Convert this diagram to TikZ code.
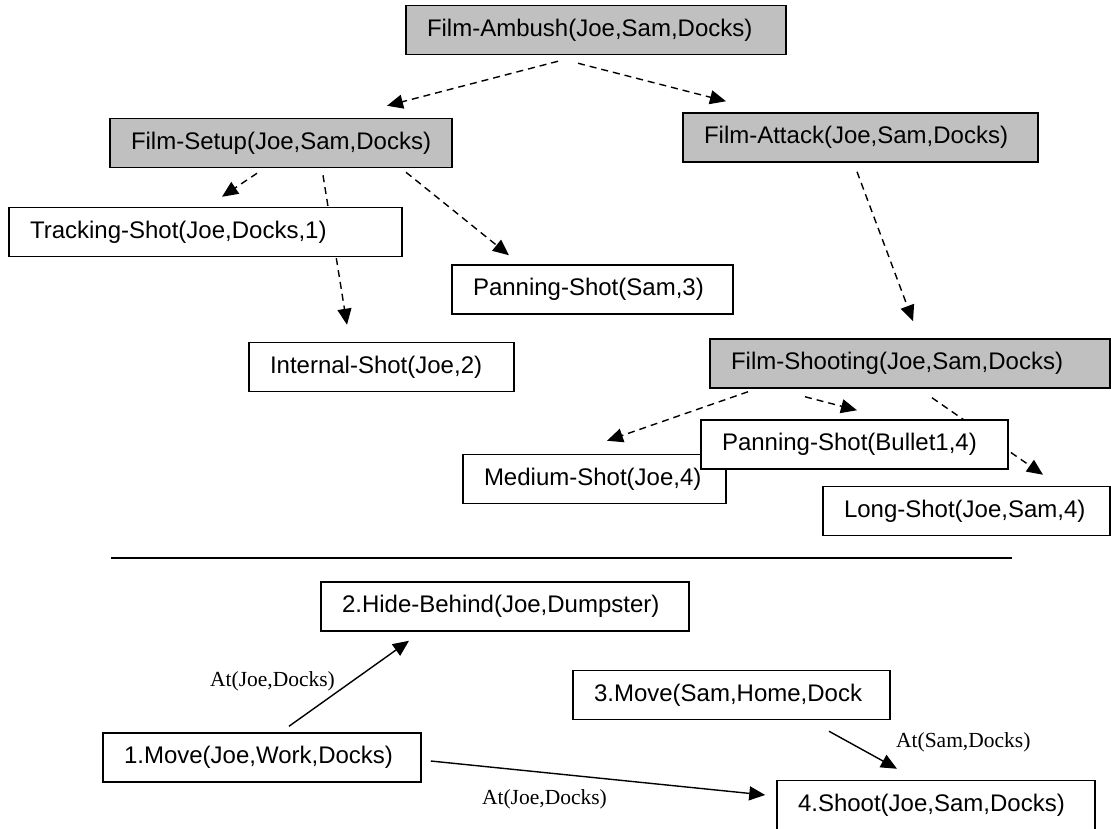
\documentclass[tikz,border=0pt]{standalone}
\usepackage{fontspec}
\usepackage{tikz}
\usetikzlibrary{positioning, arrows.meta, backgrounds}
\newfontfamily\shotfont{Liberation Sans}
\newfontfamily\atfont{Liberation Serif}
\definecolor{boxgray}{RGB}{192,192,192}

\begin{document}
\begin{tikzpicture}[x=1pt, y=-1pt,
    shot/.style={draw, line width=1.5pt, fill=white, rectangle, inner xsep=21pt, minimum height=49pt, align=left,
        font=\shotfont\fontsize{24}{28}\selectfont},
    film/.style={shot, fill=boxgray},
    plan/.style={-{Triangle[length=16pt, width=14pt]}, line width=1.4pt, dash pattern=on 7pt off 5pt},
    link/.style={-{Triangle[length=16pt, width=14pt]}, line width=1.4pt},
    cond/.style={font=\atfont\fontsize{21.5}{24}\selectfont, inner sep=0pt}]
    \useasboundingbox (0, 0) rectangle (1111, 828);

    % film plan
    \node[film, text width=338pt] (ambush) at (596, 30) {Film-Ambush(Joe,Sam,Docks)};
    \node[film, text width=300pt] (setup) at (281, 143) {\mbox{Film-Setup(Joe,Sam,Docks)}};
    \node[film, text width=313pt] (attack) at (860.5, 137.5) {Film-Attack(Joe,Sam,Docks)};
    \node[shot, text width=351pt] (tracking) at (205.5, 232) {Tracking-Shot(Joe,Docks,1)};
    \node[shot, text width=239pt] (pansam) at (592.5, 289.5) {Panning-Shot(Sam,3)};
    \node[shot, text width=223pt] (internal) at (381.5, 367) {Internal-Shot(Joe,2)};
    \node[film, text width=358pt] (shooting) at (910, 363.5) {Film-Shooting(Joe,Sam,Docks)};
    \node[shot, text width=221pt] (medium) at (594.5, 479) {Medium-Shot(Joe,4)};
    \node[shot, text width=265pt] (panbullet) at (854.5, 444.5) {Panning-Shot(Bullet1,4)};
    \node[shot, text width=245pt] (long) at (966.5, 511) {Long-Shot(Joe,Sam,4)};

    \begin{scope}[on background layer]
        \draw[plan] ([xshift=-38pt, yshift=-6pt]ambush.south) -- ([xshift=106pt, yshift=12pt]setup.north);
        \draw[plan] ([xshift=-18pt, yshift=-8pt]ambush.south) -- ([xshift=-134.5pt, yshift=11pt]attack.north);
        \draw[plan] ([xshift=-24pt, yshift=-5pt]setup.south) -- ([xshift=16.5pt, yshift=10pt]tracking.north);
        \draw[plan] ([xshift=42pt, yshift=-7pt]setup.south) -- ([xshift=-34.5pt, yshift=17pt]internal.north);
        \draw[plan] ([xshift=125pt, yshift=-4pt]setup.south) -- ([xshift=-83.5pt, yshift=9pt]pansam.north);
        \draw[plan] ([xshift=-3.5pt, yshift=-9pt]attack.south) -- ([xshift=3pt, yshift=17pt]shooting.north);
        \draw[plan] ([xshift=-162pt, yshift=-3pt]shooting.south) -- ([xshift=12.5pt, yshift=13pt]medium.north);
        \draw[plan] ([xshift=-105pt, yshift=-8pt]shooting.south) -- ([xshift=2.5pt, yshift=9pt]panbullet.north);
        \draw[plan] ([xshift=22pt, yshift=-9pt]shooting.south) -- ([xshift=76.5pt, yshift=11pt]long.north);
    \end{scope}

    \draw[line width=1.4pt] (111, 558) -- (1012, 558);

    % plot steps
    \node[shot, text width=326pt] (hide) at (505, 606.5) {2.Hide-Behind(Joe,Dumpster)};
    \node[shot, text width=276pt] (move1) at (262, 757.5) {1.Move(Joe,Work,Docks)};
    \node[shot, text width=275pt] (move3) at (731.5, 695) {3.Move(Sam,Home,Dock};
    \node[shot, text width=276pt] (shoot4) at (936, 805) {4.Shoot(Joe,Sam,Docks)};

    \draw[link] ([xshift=27pt, yshift=6pt]move1.north) -- node[cond, pos=0.53, left=17pt] {At(Joe,Docks)} ([xshift=-96pt, yshift=-9pt]hide.south);
    \draw[link] ([xshift=9pt, yshift=-3.5pt]move1.east) -- node[cond, pos=0.34, below=16pt] {At(Joe,Docks)} ([xshift=-11pt, yshift=10pt]shoot4.west);
    \draw[link] ([xshift=97.5pt, yshift=-11pt]move3.south) -- node[cond, pos=0.3, right=46pt] {At(Sam,Docks)} ([xshift=-39pt, yshift=11pt]shoot4.north);
\end{tikzpicture}
\end{document}
